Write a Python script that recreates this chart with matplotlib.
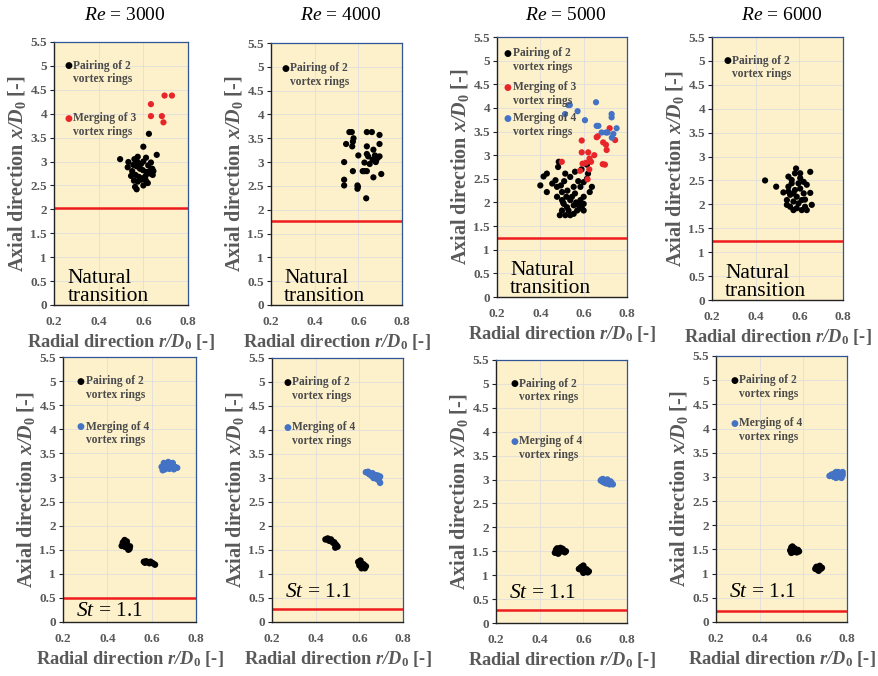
import matplotlib
matplotlib.use('Agg')
import matplotlib.pyplot as plt

plt.rcParams['font.family'] = 'Liberation Serif'
plt.rcParams['mathtext.fontset'] = 'custom'
plt.rcParams['mathtext.rm'] = 'Liberation Serif'
plt.rcParams['mathtext.it'] = 'Liberation Serif:italic'
plt.rcParams['mathtext.bf'] = 'Liberation Serif:bold'
plt.rcParams['mathtext.bfit'] = 'Liberation Serif:italic:bold'

# ---- data ----
re_values = ['3000', '4000', '5000', '6000']
natural_limit = [2.02, 1.77, 1.25, 1.23]   # red line, natural transition
forced_limit = [0.50, 0.28, 0.28, 0.23]    # red line, St = 1.1

x_ticks = [0.2, 0.4, 0.6, 0.8]
x_ticklabels = ['0.2', '0.4', '0.6', '0.8']
y_ticks = [0, 0.5, 1, 1.5, 2, 2.5, 3, 3.5, 4, 4.5, 5, 5.5]
y_ticklabels = ['0', '0.5', '1', '1.5', '2', '2.5', '3', '3.5', '4', '4.5', '5', '5.5']

# natural transition, Re = 3000
n3000_pair_x = [0.625, 0.600, 0.496, 0.660, 0.533, 0.530, 0.560, 0.575, 0.590, 0.600, 0.612, 0.622, 0.634,
                0.645, 0.555, 0.570, 0.585, 0.598, 0.615, 0.630, 0.545, 0.565, 0.580, 0.595, 0.610, 0.628,
                0.642, 0.558, 0.575, 0.590, 0.605, 0.620, 0.563, 0.570, 0.600, 0.612, 0.585, 0.550, 0.640, 0.572]
n3000_pair_y = [3.58, 3.31, 3.05, 3.14, 2.99, 2.88, 3.05, 3.10, 2.95, 3.00, 3.08, 2.92, 2.98,
                2.80, 2.93, 2.90, 2.85, 2.82, 2.78, 2.75, 2.70, 2.72, 2.68, 2.65, 2.70, 2.80,
                2.72, 2.60, 2.58, 2.62, 2.65, 2.55, 2.47, 2.42, 2.50, 2.60, 2.95, 2.80, 2.85, 3.00]
n3000_merge3_x = [0.695, 0.728, 0.634, 0.634, 0.683, 0.690]
n3000_merge3_y = [4.38, 4.38, 4.20, 3.95, 3.95, 3.82]

# natural transition, Re = 4000
n4000_pair_x = [0.559, 0.570, 0.639, 0.662, 0.697, 0.578, 0.575, 0.544, 0.572, 0.639, 0.697, 0.669,
                0.639, 0.600, 0.676, 0.690, 0.697, 0.683, 0.628, 0.652, 0.535, 0.628, 0.639, 0.575,
                0.705, 0.669, 0.535, 0.535, 0.596, 0.596, 0.636, 0.645, 0.680, 0.620, 0.598, 0.665]
n4000_pair_y = [3.63, 3.63, 3.63, 3.63, 3.57, 3.50, 3.43, 3.38, 3.33, 3.33, 3.38, 3.26,
                3.17, 3.14, 3.14, 3.10, 3.12, 3.05, 2.99, 2.96, 3.00, 2.81, 2.81, 2.81,
                2.75, 2.68, 2.63, 2.51, 2.51, 2.44, 2.24, 3.12, 3.00, 2.81, 2.48, 3.05]

# natural transition, Re = 5000
n5000_pair_x = [0.485, 0.482, 0.615, 0.620, 0.515, 0.415, 0.430, 0.400, 0.430, 0.470, 0.477, 0.495,
                0.538, 0.554, 0.560, 0.600, 0.615, 0.628, 0.638, 0.600, 0.500, 0.508, 0.523, 0.538,
                0.500, 0.490, 0.515, 0.538, 0.554, 0.570, 0.577, 0.592, 0.600, 0.554, 0.530, 0.585,
                0.600, 0.546, 0.520, 0.500, 0.477, 0.585, 0.560, 0.590, 0.505, 0.525, 0.565, 0.575,
                0.455, 0.510]
n5000_pair_y = [2.86, 2.75, 2.80, 2.61, 2.61, 2.55, 2.61, 2.36, 2.22, 2.47, 2.33, 2.36,
                2.54, 2.33, 2.19, 2.43, 2.50, 2.22, 2.33, 2.12, 2.05, 1.97, 1.90, 2.05,
                1.83, 1.73, 1.73, 1.73, 1.76, 1.83, 1.94, 1.87, 1.83, 1.94, 1.83, 2.05,
                1.97, 2.12, 2.12, 2.22, 2.12, 2.33, 2.65, 2.70, 2.00, 2.25, 2.00, 2.45,
                2.40, 2.45]
n5000_merge3_x = [0.660, 0.591, 0.690, 0.703, 0.745, 0.720, 0.706, 0.591, 0.621, 0.649, 0.627,
                  0.611, 0.634, 0.499, 0.688, 0.698, 0.595, 0.583, 0.626, 0.618, 0.665]
n5000_merge3_y = [3.38, 3.31, 3.27, 3.22, 3.32, 3.57, 3.11, 3.06, 3.06, 3.00, 2.93,
                  2.84, 2.86, 2.86, 2.81, 2.80, 2.82, 2.67, 2.70, 2.49, 3.40]
n5000_merge4_x = [0.529, 0.536, 0.514, 0.572, 0.657, 0.606, 0.660, 0.668, 0.729, 0.729, 0.752,
                  0.683, 0.703, 0.737, 0.710, 0.730]
n5000_merge4_y = [4.06, 4.06, 3.87, 3.93, 4.12, 3.74, 3.62, 3.62, 3.87, 3.80, 3.57,
                  3.48, 3.48, 3.45, 3.48, 3.37]

# natural transition, Re = 6000
n6000_pair_x = [0.443, 0.494, 0.527, 0.585, 0.580, 0.650, 0.550, 0.565, 0.604, 0.620, 0.634, 0.550,
                0.580, 0.604, 0.558, 0.588, 0.650, 0.543, 0.573, 0.611, 0.626, 0.558, 0.588, 0.611,
                0.634, 0.657, 0.573, 0.543, 0.565, 0.596, 0.620, 0.573, 0.596, 0.626, 0.550, 0.604]
n6000_pair_y = [2.50, 2.37, 2.25, 2.75, 2.65, 2.68, 2.58, 2.51, 2.55, 2.47, 2.41, 2.37,
                2.30, 2.33, 2.20, 2.16, 2.24, 2.09, 2.06, 2.09, 2.10, 1.95, 1.92, 1.88,
                1.88, 1.99, 1.88, 1.99, 2.44, 2.44, 2.23, 2.23, 2.02, 1.95, 2.27, 2.65]

# forced, St = 1.1, Re = 3000
f3000_pair_x = [0.465, 0.470, 0.478, 0.485, 0.490, 0.495, 0.500, 0.480, 0.472, 0.488, 0.502,
                0.565, 0.575, 0.585, 0.595, 0.605, 0.615, 0.590, 0.570]
f3000_pair_y = [1.58, 1.65, 1.70, 1.62, 1.55, 1.50, 1.52, 1.56, 1.60, 1.67, 1.57,
                1.25, 1.26, 1.24, 1.25, 1.22, 1.19, 1.22, 1.23]
f3000_merge4_x = [0.645, 0.655, 0.665, 0.675, 0.685, 0.695, 0.705, 0.715, 0.660, 0.680, 0.700,
                  0.690, 0.650, 0.672]
f3000_merge4_y = [3.22, 3.30, 3.25, 3.32, 3.28, 3.30, 3.22, 3.20, 3.17, 3.18, 3.17,
                  3.24, 3.15, 3.20]

# forced, St = 1.1, Re = 4000
f4000_pair_x = [0.445, 0.455, 0.460, 0.470, 0.475, 0.480, 0.490, 0.495, 0.500, 0.485, 0.490, 0.465,
                0.595, 0.600, 0.605, 0.610, 0.615, 0.620, 0.625, 0.630, 0.610]
f4000_pair_y = [1.72, 1.74, 1.70, 1.72, 1.68, 1.65, 1.62, 1.60, 1.57, 1.66, 1.55, 1.69,
                1.25, 1.18, 1.28, 1.22, 1.15, 1.20, 1.12, 1.16, 1.12]
f4000_merge4_x = [0.630, 0.640, 0.645, 0.655, 0.660, 0.670, 0.675, 0.680, 0.685, 0.690, 0.695,
                  0.695, 0.665]
f4000_merge4_y = [3.12, 3.13, 3.08, 3.05, 3.10, 3.02, 3.06, 2.98, 3.05, 2.95, 2.90,
                  3.03, 3.00]

# forced, St = 1.1, Re = 5000
f5000_pair_x = [0.470, 0.475, 0.480, 0.490, 0.495, 0.500, 0.505, 0.510, 0.515, 0.520, 0.485, 0.500,
                0.580, 0.590, 0.595, 0.600, 0.605, 0.610, 0.615, 0.620, 0.625, 0.590, 0.600]
f5000_pair_y = [1.47, 1.53, 1.56, 1.52, 1.57, 1.50, 1.55, 1.52, 1.48, 1.50, 1.45, 1.54,
                1.13, 1.17, 1.10, 1.20, 1.14, 1.08, 1.12, 1.06, 1.08, 1.12, 1.05]
f5000_merge4_x = [0.680, 0.685, 0.690, 0.700, 0.705, 0.710, 0.715, 0.720, 0.725, 0.730, 0.735,
                  0.700, 0.690]
f5000_merge4_y = [2.98, 3.00, 2.95, 2.98, 2.92, 3.00, 2.95, 2.90, 2.96, 2.92, 2.90,
                  2.93, 3.01]

# forced, St = 1.1, Re = 6000
f6000_pair_x = [0.540, 0.545, 0.550, 0.555, 0.560, 0.565, 0.570, 0.575, 0.580, 0.550, 0.545,
                0.655, 0.660, 0.665, 0.670, 0.675, 0.680, 0.685, 0.670]
f6000_pair_y = [1.48, 1.54, 1.50, 1.45, 1.52, 1.47, 1.44, 1.49, 1.46, 1.56, 1.43,
                1.10, 1.14, 1.08, 1.12, 1.16, 1.10, 1.12, 1.06]
f6000_merge4_x = [0.720, 0.730, 0.740, 0.745, 0.750, 0.755, 0.760, 0.765, 0.770, 0.775, 0.780,
                  0.780, 0.750]
f6000_merge4_y = [3.02, 3.05, 3.00, 3.08, 2.98, 3.04, 3.10, 3.00, 3.06, 2.98, 3.04,
                  3.10, 3.10]

# ---- style ----
W, H = 879, 676
BG = '#fdf1cb'
BLACK = '#000000'
RED = '#e8262a'
BLUE = '#4472c4'
LINE_RED = '#ee1c1c'
GRAY = '#595959'
NOTE = '#4a4a4a'

# axes boxes in pixels: left, top, right, bottom
boxes_top = [(54, 42, 188, 305), (271, 43, 402, 305), (497, 37, 627, 297), (712, 37, 843, 300)]
boxes_bot = [(63, 357, 196, 622), (272, 358, 403, 622), (496, 360, 627, 623), (716, 356, 847, 622)]

fig = plt.figure(figsize=(W / 100, H / 100), dpi=100)
fig.patch.set_facecolor('white')


def make_axes(box):
    l, t, r, b = box
    ax = fig.add_axes([l / W, 1 - b / H, (r - l) / W, (b - t) / H])
    ax.set_facecolor(BG)
    ax.set_xlim(0.2, 0.8)
    ax.set_ylim(0, 5.5)
    ax.set_xticks(x_ticks, x_ticklabels)
    ax.set_yticks(y_ticks, y_ticklabels)
    ax.grid(True, color='#dedede', lw=0.6)
    ax.set_axisbelow(True)
    for side in ['left', 'bottom']:
        ax.spines[side].set_color('#222222')
        ax.spines[side].set_linewidth(1.0)
    for side in ['top', 'right']:
        ax.spines[side].set_color('#2f5597')
        ax.spines[side].set_linewidth(0.9)
    ax.tick_params(axis='y', length=3, width=0.8, pad=2, labelsize=9.5, labelcolor=GRAY, color='#222222')
    ax.tick_params(axis='x', length=0, pad=8, labelsize=9.5, labelcolor=GRAY)
    for lab in ax.get_xticklabels() + ax.get_yticklabels():
        lab.set_fontweight('bold')
    ax.set_xlabel(r'Radial direction $\mathbfit{r/D}_{\mathbf{0}}$ [-]', fontsize=13.2,
                  fontweight='bold', color=GRAY, labelpad=3)
    ax.set_ylabel(r'Axial direction $\mathbfit{x/D}_{\mathbf{0}}$ [-]', fontsize=14.5,
                  fontweight='bold', color=GRAY, labelpad=2)
    return ax


def note(ax, x, y, color, text):
    ax.text(x, y, '\u25cf', color=color, fontsize=6.5, ha='center', va='center',
            family='DejaVu Sans')
    ax.text(x + 0.022, y + 0.13, text, color=NOTE, fontsize=8.3, fontweight='bold',
            ha='left', va='top', linespacing=1.2)


PAIR = 'Pairing of 2\nvortex rings'
M3 = 'Merging of 3\nvortex rings'
M4 = 'Merging of 4\nvortex rings'

top_series = [
    [(n3000_pair_x, n3000_pair_y, BLACK), (n3000_merge3_x, n3000_merge3_y, RED)],
    [(n4000_pair_x, n4000_pair_y, BLACK)],
    [(n5000_pair_x, n5000_pair_y, BLACK), (n5000_merge3_x, n5000_merge3_y, RED),
     (n5000_merge4_x, n5000_merge4_y, BLUE)],
    [(n6000_pair_x, n6000_pair_y, BLACK)],
]
top_notes = [
    [(0.265, 5.0, BLACK, PAIR), (0.265, 3.9, RED, M3)],
    [(0.265, 4.97, BLACK, PAIR)],
    [(0.25, 5.15, BLACK, PAIR), (0.25, 4.43, RED, M3), (0.25, 3.78, BLUE, M4)],
    [(0.27, 5.0, BLACK, PAIR)],
]
bot_series = [
    [(f3000_pair_x, f3000_pair_y, BLACK), (f3000_merge4_x, f3000_merge4_y, BLUE)],
    [(f4000_pair_x, f4000_pair_y, BLACK), (f4000_merge4_x, f4000_merge4_y, BLUE)],
    [(f5000_pair_x, f5000_pair_y, BLACK), (f5000_merge4_x, f5000_merge4_y, BLUE)],
    [(f6000_pair_x, f6000_pair_y, BLACK), (f6000_merge4_x, f6000_merge4_y, BLUE)],
]
bot_notes = [
    [(0.28, 5.0, BLACK, PAIR), (0.28, 4.05, BLUE, M4)],
    [(0.27, 5.0, BLACK, PAIR), (0.27, 4.05, BLUE, M4)],
    [(0.285, 5.0, BLACK, PAIR), (0.285, 3.8, BLUE, M4)],
    [(0.285, 5.0, BLACK, PAIR), (0.285, 4.1, BLUE, M4)],
]
st_y = [0.03, 0.42, 0.42, 0.42]

for i in range(4):
    ax = make_axes(boxes_top[i])
    for xs, ys, c in top_series[i]:
        ax.scatter(xs, ys, s=20, color=c, edgecolors='none', zorder=3)
    ax.axhline(natural_limit[i], color=LINE_RED, lw=1.8, zorder=2)
    for nx, ny, c, t in top_notes[i]:
        note(ax, nx, ny, c, t)
    ax.text(0.26, -0.02, 'Natural\ntransition', fontsize=15.5, color='black', ha='left',
            va='bottom', linespacing=0.92)
    l, t, r, b = boxes_top[i]
    fig.text((l + r) / 2 / W + 4 / W, 1 - 16 / H, r'$\mathit{Re}$ = ' + re_values[i], fontsize=14,
             ha='center', va='center')

    ax = make_axes(boxes_bot[i])
    for xs, ys, c in bot_series[i]:
        ax.scatter(xs, ys, s=22, color=c, edgecolors='none', zorder=3)
    ax.axhline(forced_limit[i], color=LINE_RED, lw=1.8, zorder=2)
    for nx, ny, c, t in bot_notes[i]:
        note(ax, nx, ny, c, t)
    ax.text(0.26, st_y[i], r'$\mathit{St}$ = 1.1', fontsize=15.5, color='black', ha='left',
            va='bottom')

fig.savefig('out.png', dpi=100, facecolor='white')
